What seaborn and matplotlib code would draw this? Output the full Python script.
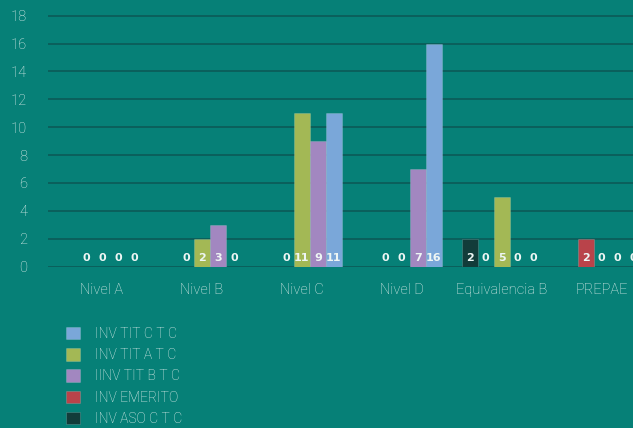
import numpy as np
import pandas as pd
import matplotlib
matplotlib.use("Agg")
import matplotlib.pyplot as plt
import seaborn as sns
from matplotlib.patches import Patch

# data (NaN = no bar / no label in that slot)
categorias = ["Nivel A", "Nivel B", "Nivel C", "Nivel D", "Equivalencia B", "PREPAE"]
series = ["INV ASO C T C", "INV EMERITO", "INV TIT A T C", "IINV TIT B T C", "INV TIT C T C"]
inv_aso_ctc = [np.nan, np.nan, np.nan, np.nan, 2, np.nan]
inv_emerito = [0, 0, 0, 0, 0, 2]
inv_tit_atc = [0, 2, 11, 0, 5, 0]
inv_tit_btc = [0, 3, 9, 7, 0, 0]
inv_tit_ctc = [0, 0, 11, 16, 0, 0]
colores = ["#123c3a", "#b9434a", "#a3b855", "#a287c0", "#7aa7d9"]
legend_order = ["INV TIT C T C", "INV TIT A T C", "IINV TIT B T C", "INV EMERITO", "INV ASO C T C"]

BG = "#068077"
GRID = "#0b5d5a"
TXT = "#e2f0ed"

# long format for seaborn
valores = [inv_aso_ctc, inv_emerito, inv_tit_atc, inv_tit_btc, inv_tit_ctc]
rows = []
for s, vals in zip(series, valores):
    for c, v in zip(categorias, vals):
        rows.append({"categoria": c, "serie": s, "valor": v})
df = pd.DataFrame(rows).dropna()

sns.set_style("white")
plt.rcParams["font.family"] = ["Roboto", "DejaVu Sans"]

fig = plt.figure(figsize=(6.33, 4.28), dpi=100, facecolor=BG)
ax = fig.add_axes([0.0758, 0.377, 0.9242, 0.588])
ax.set_facecolor(BG)

palette = dict(zip(series, colores))
sns.barplot(data=df, x="categoria", y="valor", hue="serie", order=categorias,
            hue_order=series, palette=palette, width=0.8, saturation=1,
            edgecolor="#ffffff30", linewidth=0.6, ax=ax, legend=False, zorder=3)

# value labels sit at the base of each bar
for cont in ax.containers:
    for p in cont.patches:
        h = p.get_height()
        if np.isnan(h):
            continue
        ax.text(p.get_x() + p.get_width() / 2, 0.6, f"{int(h)}", ha="center", va="center",
                fontsize=8, fontweight="bold", color="#eef6f4", zorder=5,
                family=["DejaVu Sans"])

ax.set_ylim(0, 18.05)
ax.set_xlim(-0.541, 5.315)
ax.set_yticks(range(0, 19, 2))
ax.yaxis.grid(True, color=GRID, linewidth=1.3, zorder=0)
ax.set_axisbelow(True)
for sp in ax.spines.values():
    sp.set_visible(False)
ax.tick_params(axis="y", length=0, pad=15, labelsize=10.5, labelcolor=TXT)
ax.tick_params(axis="x", length=0, pad=12, labelsize=10.5, labelcolor=TXT)
for lbl in ax.get_xticklabels() + ax.get_yticklabels():
    lbl.set_fontweight("light")
ax.set_xlabel("")
ax.set_ylabel("")

handles = [Patch(facecolor=palette[s], edgecolor="#ffffff30", linewidth=0.6) for s in legend_order]
leg = fig.legend(handles, legend_order, loc="upper left", bbox_to_anchor=(0.105, 0.236),
                 frameon=False, fontsize=10, handlelength=1.0, handleheight=1.0,
                 handletextpad=1.05, labelspacing=0.52, borderpad=0, borderaxespad=0)
for t in leg.get_texts():
    t.set_color(TXT)
    t.set_fontweight("light")

fig.savefig("out.png", dpi=100, facecolor=BG)
